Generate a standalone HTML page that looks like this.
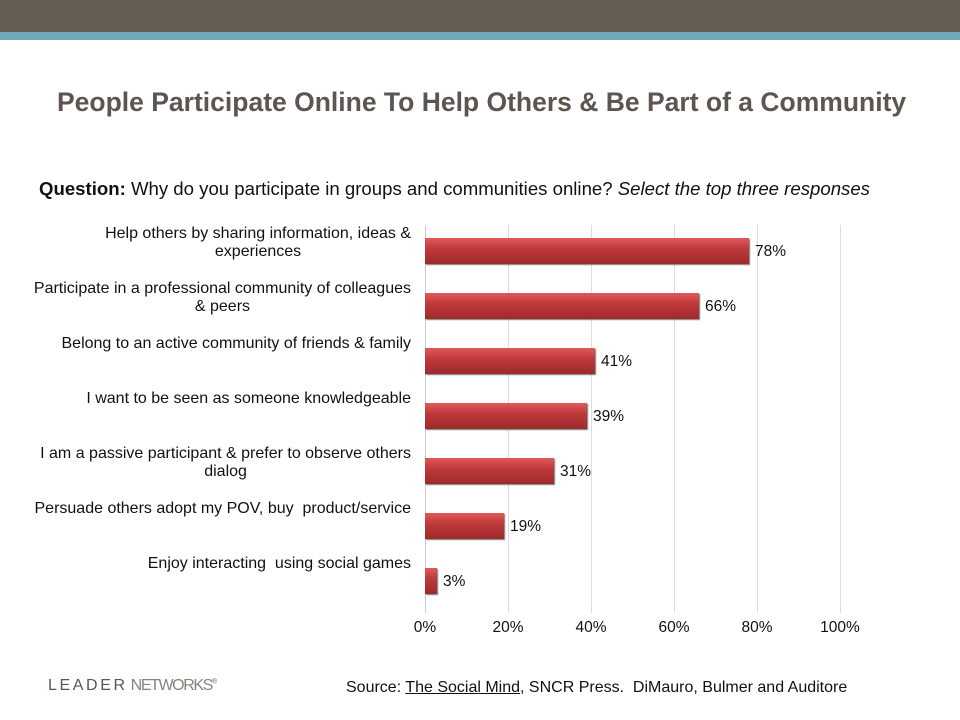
<!DOCTYPE html>
<html><head><style>
body{margin:0;width:960px;height:720px;background:#fff;position:relative;overflow:hidden;font-family:"Liberation Sans",Arial,sans-serif;color:#111}
.a{position:absolute}
.lw{position:absolute;right:549px;width:420px;text-align:right}
.lbl{display:inline-block;text-align:center;font-size:16px;line-height:18px;white-space:nowrap}
.bar{position:absolute;left:425px;height:26px;background:linear-gradient(#e05a5a,#c0393b 40%,#9d2a2c);box-shadow:1px 1px 1px #777}
.val{position:absolute;font-size:15.5px}
.g{position:absolute;top:225px;height:388px;width:1px;background:#ddd}
.t{position:absolute;top:619px;font-size:15.5px;width:60px;text-align:center}
</style></head><body>
<div class="a" style="left:0;top:0;width:960px;height:32px;background:#655d51"></div>
<div class="a" style="left:0;top:32px;width:960px;height:8px;background:#72a9ba"></div>
<div class="a" style="left:57px;top:87px;width:860px;white-space:nowrap;font-size:26.5px;font-weight:bold;color:#5e5550">People Participate Online To Help Others &amp; Be Part of a Community</div>
<div class="a" style="left:39px;top:178px;font-size:18.6px;white-space:nowrap"><b>Question:</b> Why do you participate in groups and communities online? <i>Select the top three responses</i></div>
<div class="g" style="left:425px;background:#ccc"></div>
<div class="g" style="left:508px"></div><div class="g" style="left:591px"></div><div class="g" style="left:674px"></div><div class="g" style="left:757px"></div><div class="g" style="left:840px"></div>

<div class="lw" style="top:225px"><span class="lbl">Help others by sharing information, ideas &amp;<br>experiences</span></div>
<div class="lw" style="top:280px"><span class="lbl">Participate in a professional community of colleagues <br>&amp; peers</span></div>
<div class="lw" style="top:335px"><span class="lbl">Belong to an active community of friends &amp; family</span></div>
<div class="lw" style="top:390px"><span class="lbl">I want to be seen as someone knowledgeable</span></div>
<div class="lw" style="top:445px"><span class="lbl">I am a passive participant &amp; prefer to observe others <br>dialog</span></div>
<div class="lw" style="top:500px"><span class="lbl">Persuade others adopt my POV, buy &nbsp;product/service</span></div>
<div class="lw" style="top:555px"><span class="lbl">Enjoy interacting &nbsp;using social games</span></div>

<div class="bar" style="top:238px;width:324px"></div><div class="val" style="left:755px;top:243px">78%</div>
<div class="bar" style="top:293px;width:274px"></div><div class="val" style="left:705px;top:298px">66%</div>
<div class="bar" style="top:348px;width:170px"></div><div class="val" style="left:601px;top:353px">41%</div>
<div class="bar" style="top:403px;width:162px"></div><div class="val" style="left:593px;top:408px">39%</div>
<div class="bar" style="top:458px;width:129px"></div><div class="val" style="left:560px;top:463px">31%</div>
<div class="bar" style="top:513px;width:79px"></div><div class="val" style="left:510px;top:518px">19%</div>
<div class="bar" style="top:568px;width:12px"></div><div class="val" style="left:443px;top:573px">3%</div>

<div class="t" style="left:395px">0%</div><div class="t" style="left:478px">20%</div><div class="t" style="left:561px">40%</div><div class="t" style="left:644px">60%</div><div class="t" style="left:727px">80%</div><div class="t" style="left:810px">100%</div>

<div class="a" style="left:48px;top:677px;font-size:16px;color:#5e5550;letter-spacing:2.6px;white-space:nowrap">LEADER<span style="letter-spacing:-1.4px;color:#8a817b"> NETWORKS</span><sup style="font-size:7px;letter-spacing:0">®</sup></div>
<div class="a" style="left:346px;top:679px;font-size:16px;white-space:nowrap">Source: <u>The Social Mind</u>, SNCR Press. &nbsp;DiMauro, Bulmer and Auditore</div>
</body></html>
